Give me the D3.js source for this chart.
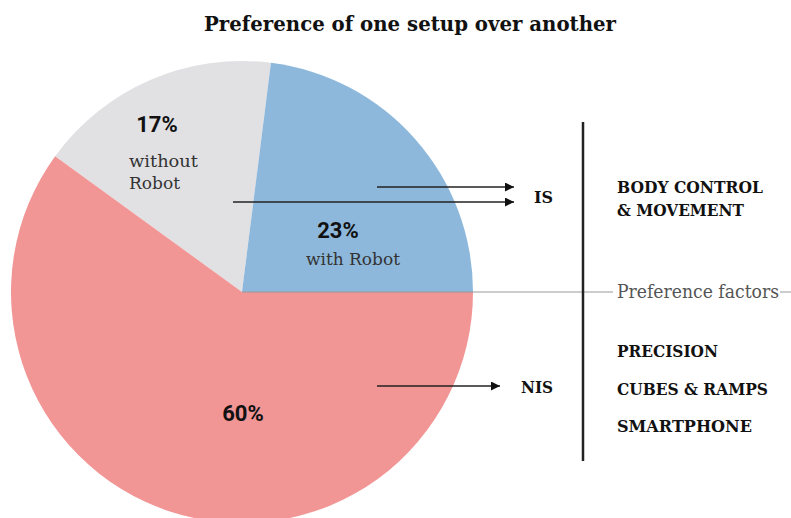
<!DOCTYPE html>
<html>
<head>
<meta charset="utf-8">
<script src="https://cdn.jsdelivr.net/npm/d3@7"></script>
<style>
  body { margin: 0; background: #fff; }
  .slab { font-family: "DejaVu Serif", serif; }
  .sans { font-family: Roboto, "DejaVu Sans", sans-serif; }
</style>
</head>
<body>
<script>
// slice data (clockwise, starting with the grey slice)
const slices = ['without Robot', 'with Robot', 'NIS']
const shares = [17, 23, 60]
const colors = ['#e1e1e4', '#8db8db', '#f29595']

// right hand factors
const isFactors = ['BODY CONTROL', '& MOVEMENT']
const nisFactors = ['PRECISION', 'CUBES & RAMPS', 'SMARTPHONE']

const w = 791
const h = 518
const cx = 242
const cy = 292
const r = 231

const svg = d3.select('body')
    .append('svg')
    .attr('width', w)
    .attr('height', h)

// title
svg.append('text')
    .attr('class', 'slab')
    .attr('x', 410)
    .attr('y', 31)
    .attr('text-anchor', 'middle')
    .attr('font-size', 21)
    .attr('font-weight', 'bold')
    .attr('textLength', 412)
    .attr('lengthAdjust', 'spacingAndGlyphs')
    .attr('fill', '#111')
    .text('Preference of one setup over another')

// pie
const pie = d3.pie()
    .sort(null)
    .startAngle(-0.15 * 2 * Math.PI)
    .endAngle(0.85 * 2 * Math.PI)

const arc = d3.arc().innerRadius(0).outerRadius(r)

const g = svg.append('g').attr('transform', `translate(${cx},${cy})`)

g.selectAll('path')
    .data(pie(shares))
    .enter()
    .append('path')
    .attr('d', arc)
    .attr('fill', (d, i) => colors[i])

// horizontal guide line
svg.append('line')
    .attr('x1', cx).attr('x2', 613)
    .attr('y1', cy).attr('y2', cy)
    .attr('stroke', '#999').attr('stroke-width', 1)
svg.append('line')
    .attr('x1', 780).attr('x2', w)
    .attr('y1', cy).attr('y2', cy)
    .attr('stroke', '#999').attr('stroke-width', 1)

svg.append('text')
    .attr('class', 'slab')
    .attr('x', 617)
    .attr('y', 298)
    .attr('font-size', 18)
    .attr('textLength', 162)
    .attr('lengthAdjust', 'spacingAndGlyphs')
    .attr('fill', '#555')
    .text('Preference factors')

// vertical divider
svg.append('line')
    .attr('x1', 583).attr('x2', 583)
    .attr('y1', 122).attr('y2', 461)
    .attr('stroke', '#222').attr('stroke-width', 2.5)

// arrows
const defs = svg.append('defs')
defs.append('marker')
    .attr('id', 'arrow')
    .attr('viewBox', '0 0 10 10')
    .attr('refX', 10).attr('refY', 5)
    .attr('markerWidth', 9).attr('markerHeight', 9)
    .attr('markerUnits', 'userSpaceOnUse')
    .attr('orient', 'auto')
    .append('path')
    .attr('d', 'M0,0L10,5L0,10Z')
    .attr('fill', '#111')

const arrows = [
    [377, 187, 514, 187],
    [233, 202, 514, 202],
    [377, 386, 500, 386]
]
svg.selectAll('.arrow')
    .data(arrows)
    .enter()
    .append('line')
    .attr('class', 'arrow')
    .attr('x1', d => d[0]).attr('y1', d => d[1])
    .attr('x2', d => d[2]).attr('y2', d => d[3])
    .attr('stroke', '#222').attr('stroke-width', 1.3)
    .attr('marker-end', 'url(#arrow)')

// group labels
svg.append('text')
    .attr('class', 'slab').attr('x', 534).attr('y', 203)
    .attr('font-size', 17).attr('font-weight', 'bold').attr('fill', '#111')
    .attr('textLength', 19).attr('lengthAdjust', 'spacingAndGlyphs')
    .text('IS')
svg.append('text')
    .attr('class', 'slab').attr('x', 521).attr('y', 393)
    .attr('font-size', 17).attr('font-weight', 'bold').attr('fill', '#111')
    .attr('textLength', 32).attr('lengthAdjust', 'spacingAndGlyphs')
    .text('NIS')

const factorWidths = { 'BODY CONTROL': 146, '& MOVEMENT': 127, 'PRECISION': 101, 'CUBES & RAMPS': 151, 'SMARTPHONE': 135 }

svg.selectAll('.isf')
    .data(isFactors)
    .enter()
    .append('text')
    .attr('class', 'slab isf')
    .attr('x', 617)
    .attr('y', (d, i) => 193 + i * 23)
    .attr('font-size', 17).attr('font-weight', 'bold').attr('fill', '#111')
    .attr('textLength', d => factorWidths[d])
    .attr('lengthAdjust', 'spacingAndGlyphs')
    .text(d => d)

svg.selectAll('.nisf')
    .data(nisFactors)
    .enter()
    .append('text')
    .attr('class', 'slab nisf')
    .attr('x', 617)
    .attr('y', (d, i) => 357 + i * 37.5)
    .attr('font-size', 17).attr('font-weight', 'bold').attr('fill', '#111')
    .attr('textLength', d => factorWidths[d])
    .attr('lengthAdjust', 'spacingAndGlyphs')
    .text(d => d)

// slice labels
const pct = [[157, 132], [338, 238], [243, 421]]
svg.selectAll('.pct')
    .data(shares)
    .enter()
    .append('text')
    .attr('class', 'sans pct')
    .attr('x', (d, i) => pct[i][0])
    .attr('y', (d, i) => pct[i][1])
    .attr('text-anchor', 'middle')
    .attr('font-size', 22).attr('font-weight', 'bold').attr('fill', '#111')
    .text(d => d + '%')

svg.append('text')
    .attr('class', 'slab').attr('x', 129).attr('y', 167)
    .attr('font-size', 17.5).attr('fill', '#333')
    .attr('textLength', 69).attr('lengthAdjust', 'spacingAndGlyphs')
    .text('without')
svg.append('text')
    .attr('class', 'slab').attr('x', 129).attr('y', 189)
    .attr('font-size', 17.5).attr('fill', '#333')
    .attr('textLength', 51).attr('lengthAdjust', 'spacingAndGlyphs')
    .text('Robot')
svg.append('text')
    .attr('class', 'slab').attr('x', 306).attr('y', 265)
    .attr('font-size', 17.5).attr('fill', '#333')
    .attr('textLength', 94).attr('lengthAdjust', 'spacingAndGlyphs')
    .text('with Robot')
</script>
</body>
</html>
